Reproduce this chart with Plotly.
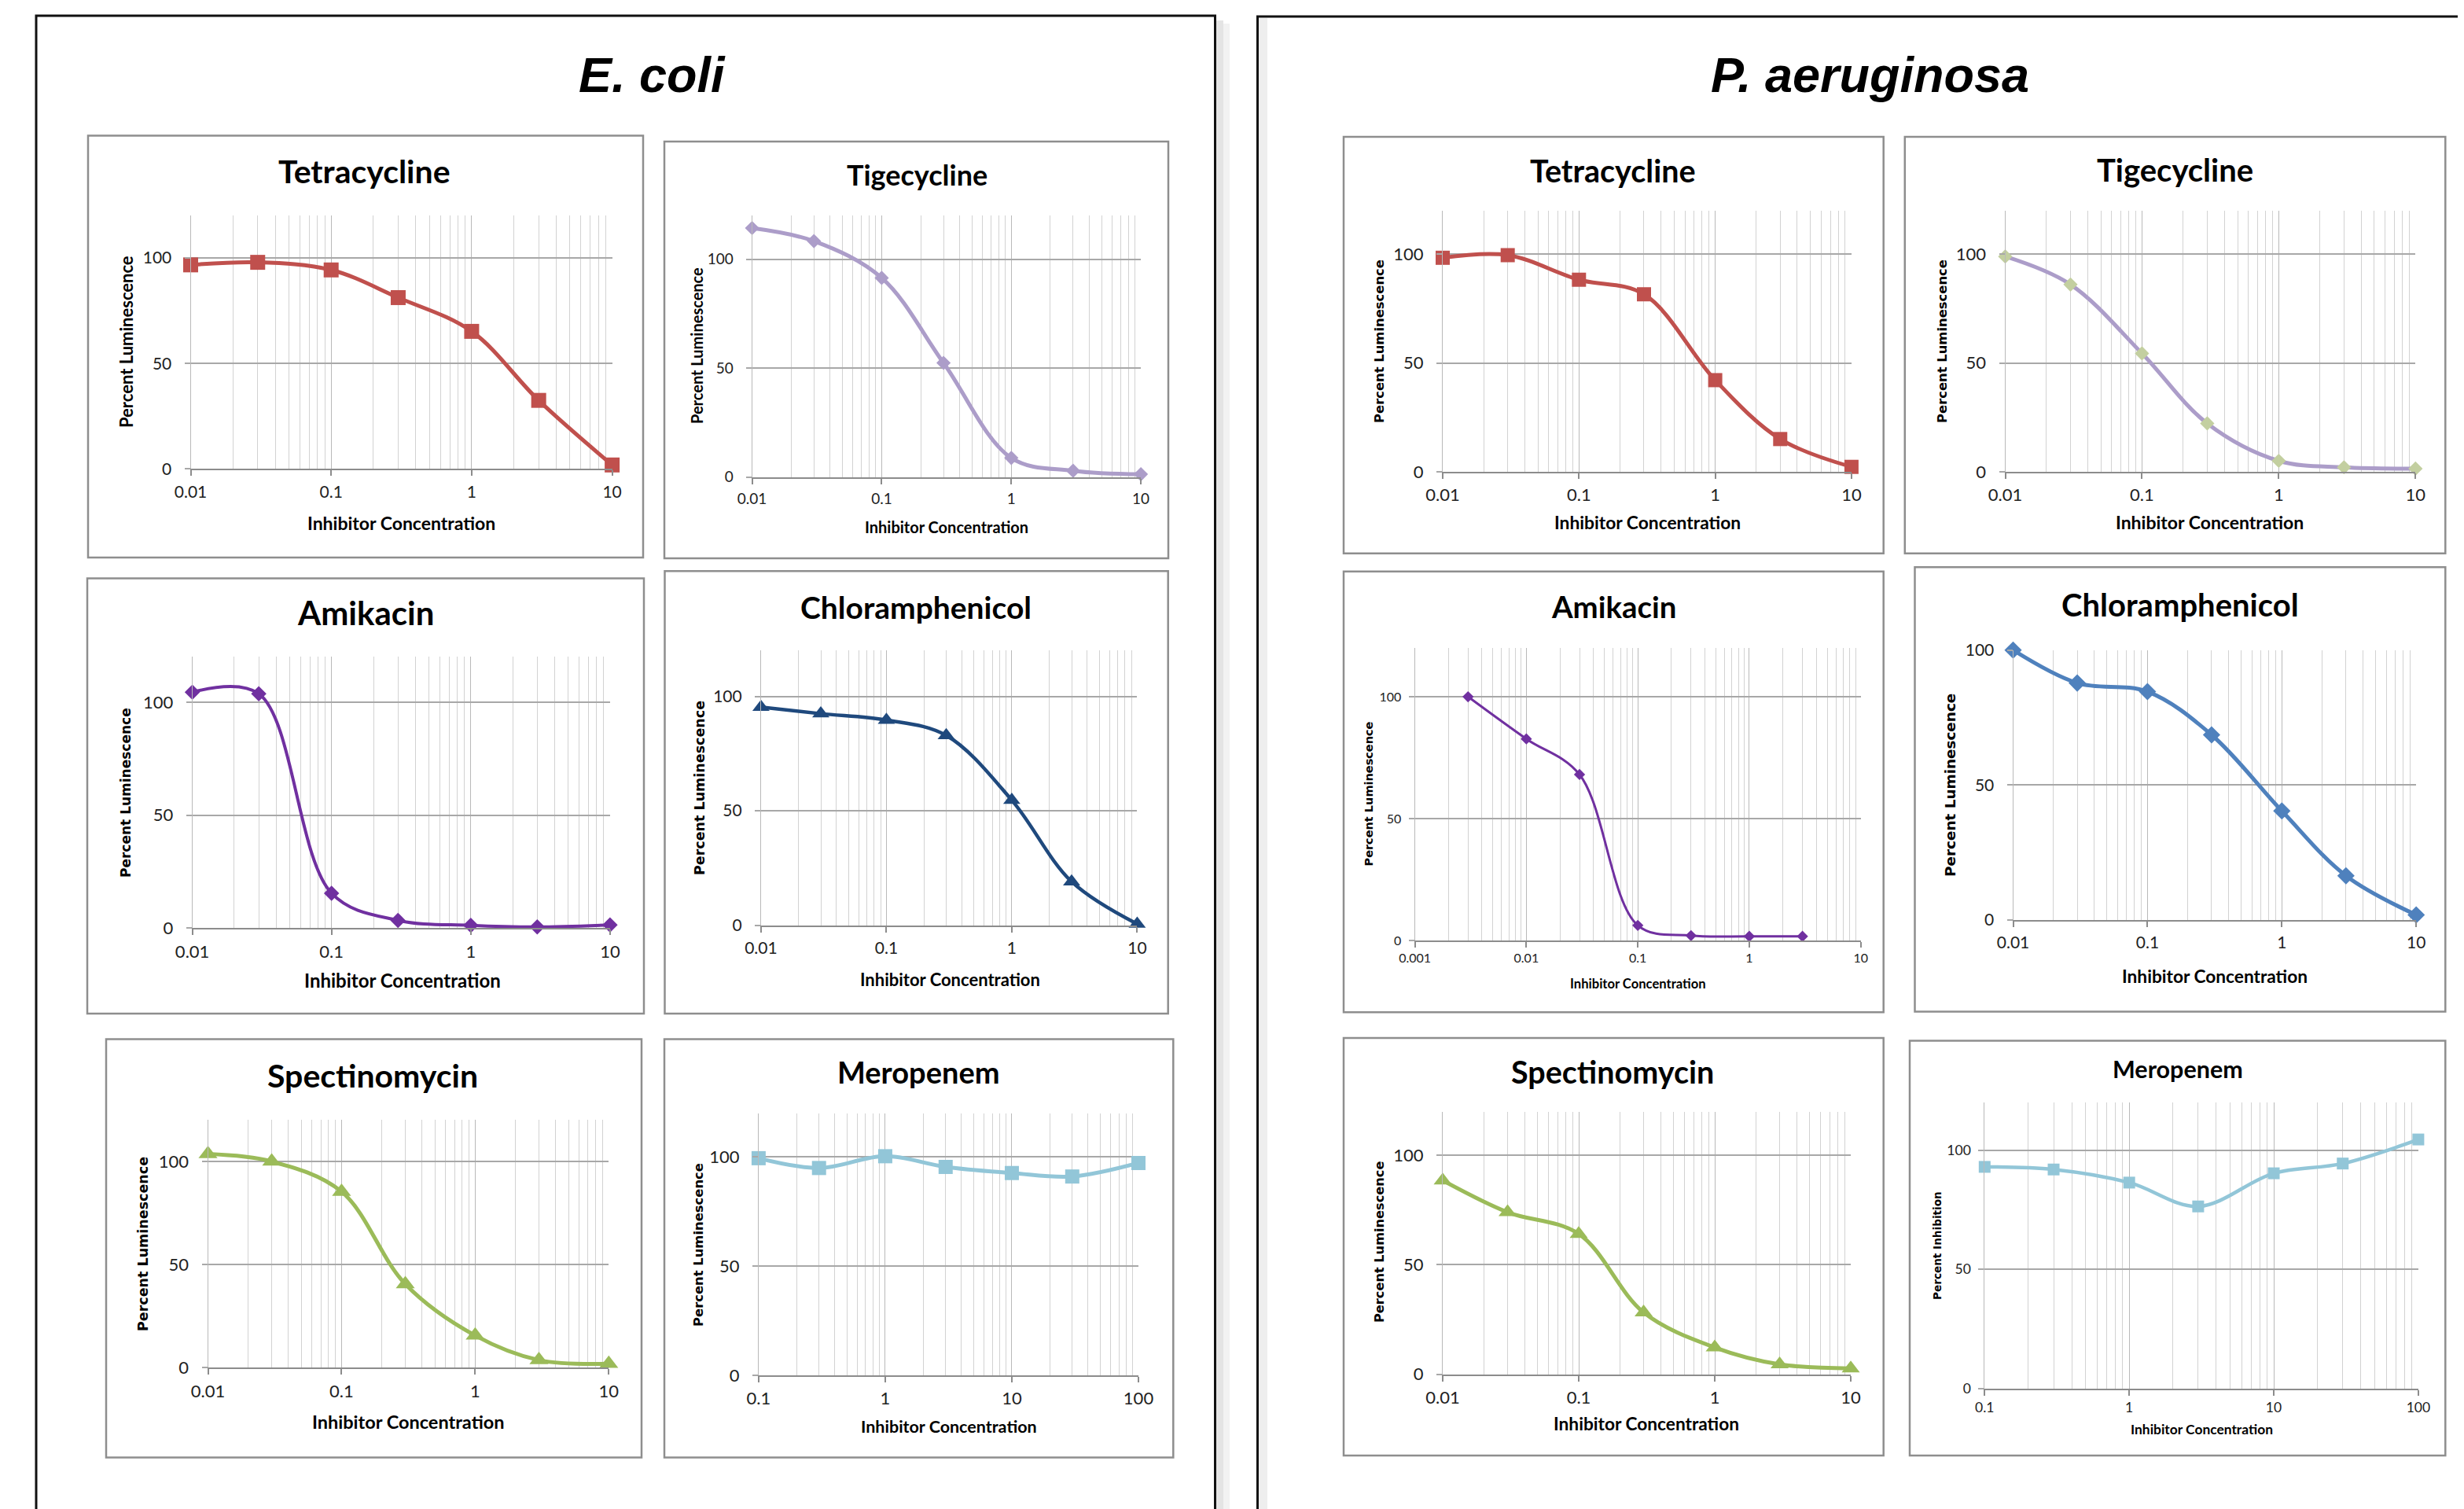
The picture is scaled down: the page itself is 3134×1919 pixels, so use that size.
import math
import plotly.graph_objects as go

W, H = 3134, 1919
PAGE_OFFSET = 8  # the browser's default body margin shifts the figure by this many pixels

# ------------------------------------------------------------------ data
conc_standard = [0.01, 0.03, 0.1, 0.3, 1, 3, 10]
conc_meropenem = [0.1, 0.3, 1, 3, 10, 30, 100]
conc_pa_amikacin = [0.003, 0.01, 0.03, 0.1, 0.3, 1, 3]

ecoli_tetracycline = [96.7, 97.9, 94.3, 81.2, 65.2, 32.5, 1.9]
ecoli_tigecycline = [114.3, 108.3, 91.4, 52.4, 8.8, 2.9, 1.3]
ecoli_amikacin = [104.4, 103.7, 15.4, 3.4, 1.2, 0.5, 1.4]
ecoli_chloramphenicol = [95.3, 92.4, 89.6, 82.9, 54.6, 19.0, 0.5]
ecoli_spectinomycin = [103.5, 99.9, 85.3, 40.5, 15.6, 3.7, 1.9]
ecoli_meropenem = [99.5, 95.0, 100.4, 95.5, 92.7, 91.1, 97.3]

pa_tetracycline = [98.4, 99.6, 88.3, 81.6, 42.1, 15.0, 2.2]
pa_tigecycline = [99.0, 86.1, 54.4, 22.2, 5.0, 2.0, 1.4]
pa_amikacin = [100.0, 82.7, 68.1, 6.2, 2.0, 1.7, 1.7]
pa_chloramphenicol = [100.0, 87.8, 84.6, 68.6, 40.4, 16.4, 1.9]
pa_spectinomycin = [88.5, 74.0, 64.1, 28.2, 12.2, 4.5, 2.6]
pa_meropenem = [93.0, 91.9, 86.4, 76.4, 90.3, 94.4, 104.5]

ticks_standard = [0.01, 0.1, 1, 10]
ticks_standard_labels = ["0.01", "0.1", "1", "10"]
ticks_pa_amikacin = [0.001, 0.01, 0.1, 1, 10]
ticks_pa_amikacin_labels = ["0.001", "0.01", "0.1", "1", "10"]
ticks_meropenem = [0.1, 1, 10, 100]
ticks_meropenem_labels = ["0.1", "1", "10", "100"]
y_ticks = [0, 50, 100]
y_tick_labels = ["0", "50", "100"]

species_titles = ["E. coli", "P. aeruginosa"]
x_title = "Inhibitor Concentration"
y_title_lum = "Percent Luminescence"
y_title_inh = "Percent Inhibition"

# ------------------------------------------------------------------ layout / style (pixels)
RED, LILAC, PURPLE, NAVY, GREEN, AQUA, BLUE = (
    "#C0504D", "#AC9DC9", "#7030A0", "#1F497D", "#9BBB59", "#92C6D8", "#4F81BD")

panels = [
    dict(drug="Tetracycline", x=conc_standard, y=ecoli_tetracycline, xt=ticks_standard, xl=ticks_standard_labels,
         box=(112, 172.5, 818, 709), plot=(242.5, 274.3, 778.6, 596.4), ymax=120,
         color=RED, mcolor=RED, symbol="square", msize=19, lw=5,
         title=(464, 218, 41), xtitle=(510, 665, 23), ytitle=(160, 435, 22, "Lato", y_title_lum), tick=21),
    dict(drug="Tigecycline", x=conc_standard, y=ecoli_tigecycline, xt=ticks_standard, xl=ticks_standard_labels,
         box=(845, 180, 1486, 710), plot=(956.6, 274.2, 1451.1, 606.7), ymax=120,
         color=LILAC, mcolor=LILAC, symbol="diamond", msize=14, lw=5,
         title=(1166, 222, 36), xtitle=(1204, 670, 20), ytitle=(886, 440, 20, "Lato", y_title_lum), tick=19),
    dict(drug="Amikacin", x=conc_standard, y=ecoli_amikacin, xt=ticks_standard, xl=ticks_standard_labels,
         box=(111, 735.5, 819, 1289), plot=(244.6, 835.4, 775.9, 1180.2), ymax=120,
         color=PURPLE, mcolor=PURPLE, symbol="diamond", msize=15, lw=4,
         title=(465, 779, 42), xtitle=(512, 1246, 24), ytitle=(160, 1008, 17, "DejaVu Sans", y_title_lum), tick=22),
    dict(drug="Chloramphenicol", x=conc_standard, y=ecoli_chloramphenicol, xt=ticks_standard, xl=ticks_standard_labels,
         box=(845.5, 726.3, 1485.7, 1289), plot=(967.9, 827.3, 1446.4, 1176.5), ymax=120,
         color=NAVY, mcolor=NAVY, symbol="triangle-up", msize=19, lw=4.5,
         title=(1165, 772, 39), xtitle=(1208, 1245, 22), ytitle=(890, 1002, 17.5, "DejaVu Sans", y_title_lum), tick=21),
    dict(drug="Spectinomycin", x=conc_standard, y=ecoli_spectinomycin, xt=ticks_standard, xl=ticks_standard_labels,
         box=(135, 1321.4, 816, 1853.6), plot=(264.5, 1424.3, 774.3, 1739.3), ymax=120,
         color=GREEN, mcolor=GREEN, symbol="triangle-up", msize=21, lw=5,
         title=(474, 1367, 41), xtitle=(519, 1808, 23.5), ytitle=(182, 1582, 17.5, "DejaVu Sans", y_title_lum), tick=22),
    dict(drug="Meropenem", x=conc_meropenem, y=ecoli_meropenem, xt=ticks_meropenem, xl=ticks_meropenem_labels,
         box=(845, 1321.4, 1492.3, 1853.6), plot=(964.9, 1416, 1448, 1748.9), ymax=120,
         color=AQUA, mcolor=AQUA, symbol="square", msize=18, lw=5,
         title=(1168, 1363, 38), xtitle=(1207, 1814, 21.5), ytitle=(888, 1583, 16.4, "DejaVu Sans", y_title_lum), tick=22),
    dict(drug="Tetracycline", x=conc_standard, y=pa_tetracycline, xt=ticks_standard, xl=ticks_standard_labels,
         box=(1709, 174, 2395.7, 703.7), plot=(1835, 268.1, 2354.9, 599.8), ymax=120,
         color=RED, mcolor=RED, symbol="square", msize=18, lw=5,
         title=(2051, 216, 39.5), xtitle=(2095, 664, 22.8), ytitle=(1754, 434, 16.4, "DejaVu Sans", y_title_lum), tick=22),
    dict(drug="Tigecycline", x=conc_standard, y=pa_tigecycline, xt=ticks_standard, xl=ticks_standard_labels,
         box=(2422.8, 174, 3110.3, 703.7), plot=(2550.5, 268.1, 3072.3, 599.8), ymax=120,
         color=LILAC, mcolor="#C3CFA0", symbol="diamond", msize=14, lw=5,
         title=(2766, 216, 40), xtitle=(2810, 664, 23), ytitle=(2470, 434, 16.4, "DejaVu Sans", y_title_lum), tick=22),
    dict(drug="Amikacin", x=conc_pa_amikacin, y=pa_amikacin, xt=ticks_pa_amikacin, xl=ticks_pa_amikacin_labels,
         box=(1709, 726.8, 2395.7, 1287.3), plot=(1799.6, 824.1, 2366.7, 1196), ymax=120,
         color=PURPLE, mcolor=PURPLE, symbol="diamond", msize=11, lw=3,
         title=(2052, 771, 38.4), xtitle=(2083, 1251, 16.6), ytitle=(1741, 1009.5, 14.5, "DejaVu Sans", y_title_lum), tick=16),
    dict(drug="Chloramphenicol", x=conc_standard, y=pa_chloramphenicol, xt=ticks_standard, xl=ticks_standard_labels,
         box=(2435.5, 721.3, 3110.3, 1286.6), plot=(2560.5, 826.7, 3073.2, 1170), ymax=100,
         color=BLUE, mcolor=BLUE, symbol="diamond", msize=17, lw=5,
         title=(2773, 769, 40), xtitle=(2817, 1241, 22.7), ytitle=(2481, 999, 18.4, "DejaVu Sans", y_title_lum), tick=21),
    dict(drug="Spectinomycin", x=conc_standard, y=pa_spectinomycin, xt=ticks_standard, xl=ticks_standard_labels,
         box=(1709, 1320, 2395.7, 1851), plot=(1835, 1413.6, 2354, 1747.5), ymax=120,
         color=GREEN, mcolor=GREEN, symbol="triangle-up", msize=20, lw=5,
         title=(2051, 1362, 39.5), xtitle=(2094, 1810, 22.7), ytitle=(1754, 1580, 16.2, "DejaVu Sans", y_title_lum), tick=22),
    dict(drug="Meropenem", x=conc_meropenem, y=pa_meropenem, xt=ticks_meropenem, xl=ticks_meropenem_labels,
         box=(2429, 1323.6, 3110.3, 1851), plot=(2524.3, 1402.1, 3075.9, 1765.7), ymax=120,
         color=AQUA, mcolor=AQUA, symbol="square", msize=15, lw=4.5,
         title=(2770, 1359, 30.5), xtitle=(2800, 1817, 17.4), ytitle=(2464, 1584, 13.6, "DejaVu Sans", y_title_inh), tick=17.5),
]

species_pos = [(830, 95, 63), (2378, 95, 63)]


def px(x):
    return (x - PAGE_OFFSET) / W


def py(y):
    return 1 - (y - PAGE_OFFSET) / H


def minor_vals(xmin, xmax):
    out = []
    d0 = int(math.floor(math.log10(xmin) + 1e-9))
    d1 = int(math.ceil(math.log10(xmax) - 1e-9))
    for d in range(d0, d1 + 1):
        for m in range(2, 10):
            v = m * 10 ** d
            if xmin < v < xmax:
                out.append(v)
    return out


fig = go.Figure()
shapes = []
annotations = []
layout_axes = {}

# big frames with soft shadows
shapes += [
    dict(type="rect", xref="paper", yref="paper", x0=px(1547), x1=px(1556), y0=py(1935), y1=py(26),
         fillcolor="#E4E4E4", line=dict(width=0), layer="below"),
    dict(type="rect", xref="paper", yref="paper", x0=px(1556), x1=px(1564), y0=py(1935), y1=py(30),
         fillcolor="#F2F2F2", line=dict(width=0), layer="below"),
    dict(type="rect", xref="paper", yref="paper", x0=px(1601), x1=px(1612), y0=py(1935), y1=py(23),
         fillcolor="#EEEEEE", line=dict(width=0), layer="below"),
    dict(type="rect", xref="paper", yref="paper", x0=px(46), x1=px(1545.5), y0=py(1950), y1=py(20),
         line=dict(color="#111111", width=3), layer="below"),
    dict(type="rect", xref="paper", yref="paper", x0=px(1599.5), x1=px(3170), y0=py(1950), y1=py(21),
         line=dict(color="#111111", width=3), layer="below"),
]

for (cx, cy, fs), name in zip(species_pos, species_titles):
    annotations.append(dict(text="<b><i>%s</i></b>" % name, x=px(cx), y=py(cy), xref="paper", yref="paper",
                            xanchor="center", yanchor="middle", showarrow=False,
                            font=dict(family="Liberation Sans, Arial", size=fs, color="black")))

for i, p in enumerate(panels, start=1):
    sx = "" if i == 1 else str(i)
    l, t, r, b = p["plot"]
    bl, bt, br, bb = p["box"]
    shapes.append(dict(type="rect", xref="paper", yref="paper", x0=px(bl), x1=px(br), y0=py(bb), y1=py(bt),
                       line=dict(color="#8E8E8E", width=2.5), fillcolor="white", layer="below"))
    xmin, xmax = p["xt"][0], p["xt"][-1]
    small = p["tick"] < 19
    layout_axes["xaxis" + sx] = dict(
        domain=[px(l), px(r)], anchor="y" + sx, type="log", automargin=False,
        range=[math.log10(xmin), math.log10(xmax)],
        tickmode="array", tickvals=p["xt"], ticktext=p["xl"],
        showgrid=True, gridcolor="#B9B9B9", gridwidth=1,
        minor=dict(tickmode="array", tickvals=minor_vals(xmin, xmax), showgrid=True,
                   gridcolor="#D2D2D2", gridwidth=1, ticks=""),
        ticks="outside", ticklen=7, tickwidth=1.5, tickcolor="#8C8C8C",
        showline=True, linecolor="#8C8C8C", linewidth=2, zeroline=False,
        tickfont=dict(family="Lato", size=p["tick"], color="#222222"),
        ticklabelstandoff=0 if small else 2, fixedrange=True,
    )
    layout_axes["yaxis" + sx] = dict(
        domain=[py(b), py(t)], anchor="x" + sx, range=[0, p["ymax"]], automargin=False,
        tickmode="array", tickvals=y_ticks, ticktext=y_tick_labels,
        showgrid=True, gridcolor="#A8A8A8", gridwidth=1.5, zeroline=False,
        ticks="outside", ticklen=7, tickwidth=1.5, tickcolor="#A8A8A8",
        showline=True, linecolor="#B9B9B9", linewidth=1,
        tickfont=dict(family="Lato", size=p["tick"], color="#222222"),
        ticklabelstandoff=6 if small else 12, fixedrange=True,
    )
    fig.add_trace(go.Scatter(
        x=p["x"], y=p["y"], mode="lines+markers", xaxis="x" + sx, yaxis="y" + sx,
        line=dict(shape="spline", smoothing=1, color=p["color"], width=p["lw"]),
        marker=dict(symbol=p["symbol"], size=p["msize"], color=p["mcolor"], line=dict(width=0)),
        cliponaxis=False, showlegend=False, hoverinfo="skip"))
    tx, ty, tfs = p["title"]
    annotations.append(dict(text="<b>%s</b>" % p["drug"], x=px(tx), y=py(ty), xref="paper", yref="paper",
                            xanchor="center", yanchor="middle", showarrow=False,
                            font=dict(family="Lato", size=tfs, color="black")))
    xx, xy, xfs = p["xtitle"]
    annotations.append(dict(text="<b>%s</b>" % x_title, x=px(xx), y=py(xy), xref="paper", yref="paper",
                            xanchor="center", yanchor="middle", showarrow=False,
                            font=dict(family="Lato", size=xfs, color="black")))
    yx, yy, yfs, yfam, ytxt = p["ytitle"]
    annotations.append(dict(text="<b>%s</b>" % ytxt, x=px(yx), y=py(yy), xref="paper", yref="paper",
                            xanchor="center", yanchor="middle", showarrow=False, textangle=-90,
                            font=dict(family=yfam, size=yfs, color="black")))

fig.update_layout(
    width=W, height=H, margin=dict(l=0, r=0, t=0, b=0, pad=0, autoexpand=False),
    paper_bgcolor="white", plot_bgcolor="rgba(0,0,0,0)",
    shapes=shapes, annotations=annotations, showlegend=False,
    **layout_axes,
)

fig.write_html("out.html")
